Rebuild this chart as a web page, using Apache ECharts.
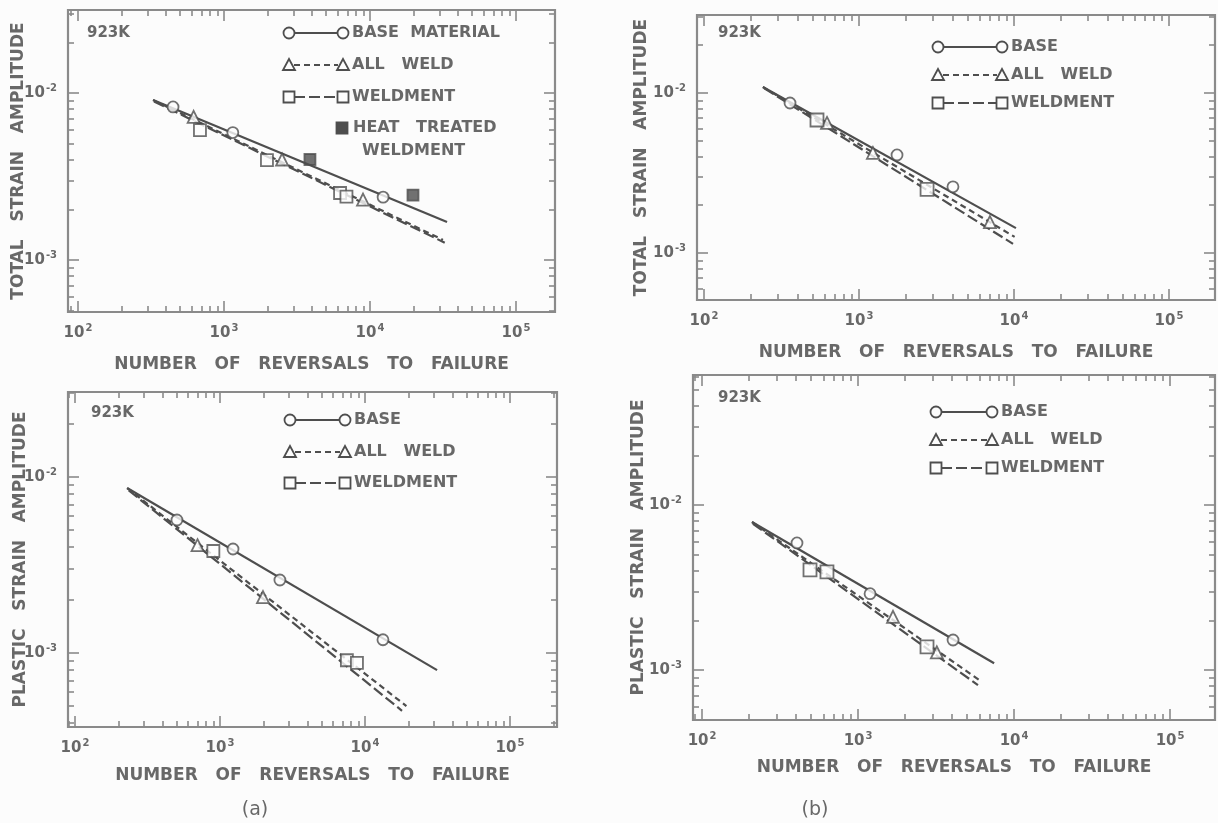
<!DOCTYPE html>
<html>
<head>
<meta charset="utf-8">
<title>Strain amplitude vs reversals to failure, 923K</title>
<script src="https://cdn.jsdelivr.net/npm/echarts@6/dist/echarts.min.js"></script>
<style>
  html, body { margin: 0; padding: 0; background: #fcfcfc; }
  #main { width: 1218px; height: 823px; }
</style>
</head>
<body>
<div id="main"></div>
<script>
  // tick positions shared by all four panels
  const xDecades = [10, 100, 1000, 10000, 100000]
  const xLabelTicks = [100, 1000, 10000, 100000]
  const yDecades = [0.0001, 0.001, 0.01, 0.1]
  const mantissas = [2, 3, 4, 5, 6, 7, 8, 9]

  // (a) total strain
  const aTotalBaseFitN = [327, 33700]
  const aTotalBaseFitStrain = [0.00908, 0.00169]
  const aTotalAllWeldFitN = [327, 31600]
  const aTotalAllWeldFitStrain = [0.00908, 0.00132]
  const aTotalWeldmentFitN = [332, 32500]
  const aTotalWeldmentFitStrain = [0.0089, 0.00127]
  const aTotalBaseN = [448, 1150, 12300]
  const aTotalBaseStrain = [0.00825, 0.0058, 0.00238]
  const aTotalAllWeldN = [620, 2500, 8960]
  const aTotalAllWeldStrain = [0.0072, 0.004, 0.0023]
  const aTotalWeldmentN = [685, 1970, 6240, 6900]
  const aTotalWeldmentStrain = [0.006, 0.00397, 0.00252, 0.0024]
  const aTotalHeatTreatedN = [3880, 19700]
  const aTotalHeatTreatedStrain = [0.004, 0.00245]

  // (b) total strain
  const bTotalBaseFitN = [240, 10300]
  const bTotalBaseFitStrain = [0.0109, 0.00143]
  const bTotalAllWeldFitN = [240, 10100]
  const bTotalAllWeldFitStrain = [0.0109, 0.00126]
  const bTotalWeldmentFitN = [245, 9860]
  const bTotalWeldmentFitStrain = [0.0107, 0.00114]
  const bTotalBaseN = [359, 1760, 4040]
  const bTotalBaseStrain = [0.00866, 0.0041, 0.00259]
  const bTotalAllWeldN = [622, 1230, 7000]
  const bTotalAllWeldStrain = [0.0065, 0.00422, 0.00156]
  const bTotalWeldmentN = [536, 2750]
  const bTotalWeldmentStrain = [0.00678, 0.0025]

  // (a) plastic strain
  const aPlasticBaseFitN = [229, 31400]
  const aPlasticBaseFitStrain = [0.00866, 0.0008]
  const aPlasticAllWeldFitN = [229, 19300]
  const aPlasticAllWeldFitStrain = [0.00866, 0.0005]
  const aPlasticWeldmentFitN = [235, 18000]
  const aPlasticWeldmentFitStrain = [0.0084, 0.00047]
  const aPlasticBaseN = [505, 1230, 2590, 13300]
  const aPlasticBaseStrain = [0.0057, 0.0039, 0.0026, 0.00119]
  const aPlasticAllWeldN = [700, 1980]
  const aPlasticAllWeldStrain = [0.0041, 0.00208]
  const aPlasticWeldmentN = [900, 7500, 8800]
  const aPlasticWeldmentStrain = [0.0038, 0.00091, 0.00088]

  // (b) plastic strain
  const bPlasticBaseFitN = [209, 7450]
  const bPlasticBaseFitStrain = [0.00789, 0.0011]
  const bPlasticAllWeldFitN = [209, 6200]
  const bPlasticAllWeldFitStrain = [0.00789, 0.00085]
  const bPlasticWeldmentFitN = [212, 5870]
  const bPlasticWeldmentFitStrain = [0.0077, 0.00081]
  const bPlasticBaseN = [406, 1194, 4064]
  const bPlasticBaseStrain = [0.00589, 0.0029, 0.00152]
  const bPlasticAllWeldN = [1675, 3200]
  const bPlasticAllWeldStrain = [0.0021, 0.00128]
  const bPlasticWeldmentN = [492, 632, 2767]
  const bPlasticWeldmentStrain = [0.00404, 0.00393, 0.00138]

  const ink = '#4e4e4e'
  const textGray = '#686868'
  const frameGray = '#8a8a8a'
  const paper = '#fcfcfc'
  const font = 'DejaVu Sans'
  const xTitle = 'NUMBER   OF   REVERSALS   TO   FAILURE'
  const dashes = { solid: 'solid', allWeld: [6, 4], weldment: [11, 4] }
  const heatSymbol = 'path://M0,0H10V10H0Z'

  const panels = [
    {
      box: [68, 10, 555, 312], xExp: [1.932, 5.267], yExp: [-3.311, -1.503],
      yTitle: 'TOTAL   STRAIN   AMPLITUDE', xGap: 44, yGap: 41,
      fits: [
        [aTotalBaseFitN, aTotalBaseFitStrain, dashes.solid],
        [aTotalAllWeldFitN, aTotalAllWeldFitStrain, dashes.allWeld],
        [aTotalWeldmentFitN, aTotalWeldmentFitStrain, dashes.weldment]
      ],
      points: [
        [aTotalBaseN, aTotalBaseStrain, 'circle', 11, false],
        [aTotalAllWeldN, aTotalAllWeldStrain, 'triangle', 12, false],
        [aTotalWeldmentN, aTotalWeldmentStrain, 'rect', 12, false],
        [aTotalHeatTreatedN, aTotalHeatTreatedStrain, heatSymbol, 11, true]
      ]
    },
    {
      box: [697, 15, 1215, 300], xExp: [1.955, 5.297], yExp: [-3.294, -1.5125],
      yTitle: 'TOTAL   STRAIN   AMPLITUDE', xGap: 44, yGap: 47,
      fits: [
        [bTotalBaseFitN, bTotalBaseFitStrain, dashes.solid],
        [bTotalAllWeldFitN, bTotalAllWeldFitStrain, dashes.allWeld],
        [bTotalWeldmentFitN, bTotalWeldmentFitStrain, dashes.weldment]
      ],
      points: [
        [bTotalBaseN, bTotalBaseStrain, 'circle', 11, false],
        [bTotalAllWeldN, bTotalAllWeldStrain, 'triangle', 12, false],
        [bTotalWeldmentN, bTotalWeldmentStrain, 'rect', 13, false]
      ]
    },
    {
      box: [68, 392, 557, 727], xExp: [1.952, 5.324], yExp: [-3.42, -1.517],
      yTitle: 'PLASTIC   STRAIN   AMPLITUDE', xGap: 40, yGap: 39,
      fits: [
        [aPlasticBaseFitN, aPlasticBaseFitStrain, dashes.solid],
        [aPlasticAllWeldFitN, aPlasticAllWeldFitStrain, dashes.allWeld],
        [aPlasticWeldmentFitN, aPlasticWeldmentFitStrain, dashes.weldment]
      ],
      points: [
        [aPlasticBaseN, aPlasticBaseStrain, 'circle', 11, false],
        [aPlasticAllWeldN, aPlasticAllWeldStrain, 'triangle', 12, false],
        [aPlasticWeldmentN, aPlasticWeldmentStrain, 'rect', 12, false]
      ]
    },
    {
      box: [693, 375, 1215, 720], xExp: [1.942, 5.288], yExp: [-3.303, -1.212],
      yTitle: 'PLASTIC   STRAIN   AMPLITUDE', xGap: 39, yGap: 46,
      fits: [
        [bPlasticBaseFitN, bPlasticBaseFitStrain, dashes.solid],
        [bPlasticAllWeldFitN, bPlasticAllWeldFitStrain, dashes.allWeld],
        [bPlasticWeldmentFitN, bPlasticWeldmentFitStrain, dashes.weldment]
      ],
      points: [
        [bPlasticBaseN, bPlasticBaseStrain, 'circle', 11, false],
        [bPlasticAllWeldN, bPlasticAllWeldStrain, 'triangle', 12, false],
        [bPlasticWeldmentN, bPlasticWeldmentStrain, 'rect', 13, false]
      ]
    }
  ]

  function minorValues(decades) {
    const out = []
    decades.forEach(d => mantissas.forEach(k => out.push(d * k)))
    return out
  }
  function within(values, lo, hi) {
    return values.filter(v => v >= lo && v <= hi)
  }
  function powerLabel(v) {
    return '{b|10}{s|' + Math.round(Math.log10(v)) + '}'
  }
  const labelRich = {
    b: { fontFamily: font, fontWeight: 'bold', fontSize: 15, color: textGray },
    s: { fontFamily: font, fontWeight: 'bold', fontSize: 10, color: textGray, padding: [0, 0, 10, 1] }
  }
  const titleStyle = { fontFamily: font, fontWeight: 'bold', fontSize: 17, color: textGray }

  function tickAxis(gi, pos, range, values, len, label, extra) {
    return Object.assign({
      gridIndex: gi,
      type: 'log',
      logBase: 10,
      position: pos,
      min: range[0],
      max: range[1],
      axisLine: { show: false },
      splitLine: { show: false },
      axisTick: {
        show: true, inside: true, length: len, customValues: values,
        lineStyle: { color: frameGray, width: 1.6 }
      },
      axisLabel: label || { show: false }
    }, extra || {})
  }

  const grids = []
  const xAxes = []
  const yAxes = []
  const series = []

  panels.forEach((p, gi) => {
    const xr = [Math.pow(10, p.xExp[0]), Math.pow(10, p.xExp[1])]
    const yr = [Math.pow(10, p.yExp[0]), Math.pow(10, p.yExp[1])]
    grids.push({
      left: p.box[0], top: p.box[1],
      width: p.box[2] - p.box[0], height: p.box[3] - p.box[1],
      show: true, borderColor: frameGray, borderWidth: 2.2, backgroundColor: 'transparent'
    })
    const xi = xAxes.length
    const yi = yAxes.length
    const xMaj = within(xLabelTicks, xr[0], xr[1])
    const xMin = within(minorValues(xDecades), xr[0], xr[1])
    const yMaj = within(yDecades, yr[0], yr[1])
    const yMin = within(minorValues(yDecades), yr[0], yr[1])

    xAxes.push(tickAxis(gi, 'bottom', xr, xMaj, 11, {
      show: true, customValues: xMaj, margin: 11, formatter: powerLabel, rich: labelRich
    }, {
      name: xTitle, nameLocation: 'middle', nameGap: p.xGap, nameTextStyle: titleStyle
    }))
    xAxes.push(tickAxis(gi, 'bottom', xr, xMin, 6))
    xAxes.push(tickAxis(gi, 'top', xr, xMaj, 11))
    xAxes.push(tickAxis(gi, 'top', xr, xMin, 6))

    yAxes.push(tickAxis(gi, 'left', yr, yMaj, 11, {
      show: true, customValues: yMaj, margin: 11, formatter: powerLabel, rich: labelRich
    }, {
      name: p.yTitle, nameLocation: 'middle', nameGap: p.yGap, nameMoveOverlap: false,
      nameTextStyle: titleStyle
    }))
    yAxes.push(tickAxis(gi, 'left', yr, yMin, 6))
    yAxes.push(tickAxis(gi, 'right', yr, yMaj, 11))
    yAxes.push(tickAxis(gi, 'right', yr, yMin, 6))

    p.fits.forEach(f => {
      series.push({
        type: 'line',
        xAxisIndex: xi, yAxisIndex: yi,
        data: f[0].map((n, i) => [n, f[1][i]]),
        showSymbol: false,
        silent: true,
        lineStyle: { color: ink, width: 2.2, type: f[2] },
        z: 2
      })
    })
    p.points.forEach(s => {
      series.push({
        type: 'scatter',
        xAxisIndex: xi, yAxisIndex: yi,
        data: s[0].map((n, i) => [n, s[1][i]]),
        symbol: s[2],
        symbolSize: s[3],
        itemStyle: {
          color: s[4] ? ink : paper,
          borderColor: ink,
          borderWidth: 1.8
        },
        z: 3
      })
    })
  })

  // legends, temperature tags and sub-figure letters
  const graphics = []
  function txt(x, y, s, size, align, weight) {
    graphics.push({
      type: 'text', x: x, y: y,
      style: {
        text: s, fill: textGray,
        font: (weight || 'bold') + ' ' + (size || 16) + 'px "' + font + '"',
        textAlign: align || 'left', textVerticalAlign: 'middle'
      }
    })
  }
  function mark(kind, cx, cy, filled) {
    const st = { fill: filled ? ink : paper, stroke: ink, lineWidth: 1.8 }
    if (kind === 'circle') graphics.push({ type: 'circle', shape: { cx: cx, cy: cy, r: 5.5 }, style: st })
    if (kind === 'triangle') graphics.push({ type: 'polygon', shape: { points: [[cx, cy - 6], [cx + 6, cy + 5], [cx - 6, cy + 5]] }, style: st })
    if (kind === 'rect') graphics.push({ type: 'rect', shape: { x: cx - 5.5, y: cy - 5.5, width: 11, height: 11 }, style: st })
  }
  function legendRow(x0, x1, y, kind, dash, label) {
    graphics.push({
      type: 'line', shape: { x1: x0 + 5, y1: y, x2: x1 - 5, y2: y },
      style: { stroke: ink, lineWidth: 2.2, lineDash: dash === 'solid' ? null : dash }
    })
    mark(kind, x0, y)
    mark(kind, x1, y)
    txt(x1 + 9, y, label)
  }

  legendRow(289, 343, 33, 'circle', dashes.solid, 'BASE  MATERIAL')
  legendRow(289, 343, 65, 'triangle', dashes.allWeld, 'ALL   WELD')
  legendRow(289, 343, 97, 'rect', dashes.weldment, 'WELDMENT')
  mark('rect', 342, 128, true)
  txt(353, 128, 'HEAT   TREATED')
  txt(362, 151, 'WELDMENT')
  txt(87, 33, '923K', 15)

  legendRow(938, 1002, 47, 'circle', dashes.solid, 'BASE')
  legendRow(938, 1002, 75, 'triangle', dashes.allWeld, 'ALL   WELD')
  legendRow(938, 1002, 103, 'rect', dashes.weldment, 'WELDMENT')
  txt(718, 33, '923K', 15)

  legendRow(290, 345, 420, 'circle', dashes.solid, 'BASE')
  legendRow(290, 345, 452, 'triangle', dashes.allWeld, 'ALL   WELD')
  legendRow(290, 345, 483, 'rect', dashes.weldment, 'WELDMENT')
  txt(91, 413, '923K', 15)

  legendRow(936, 992, 412, 'circle', dashes.solid, 'BASE')
  legendRow(936, 992, 440, 'triangle', dashes.allWeld, 'ALL   WELD')
  legendRow(936, 992, 468, 'rect', dashes.weldment, 'WELDMENT')
  txt(718, 398, '923K', 15)

  txt(255, 810, '(a)', 19, 'center', 'normal')
  txt(815, 810, '(b)', 19, 'center', 'normal')

  const chart = echarts.init(document.getElementById('main'), null, { renderer: 'canvas' })
  chart.setOption({
    backgroundColor: paper,
    animation: false,
    grid: grids,
    xAxis: xAxes,
    yAxis: yAxes,
    series: series,
    graphic: graphics
  })
</script>
</body>
</html>
